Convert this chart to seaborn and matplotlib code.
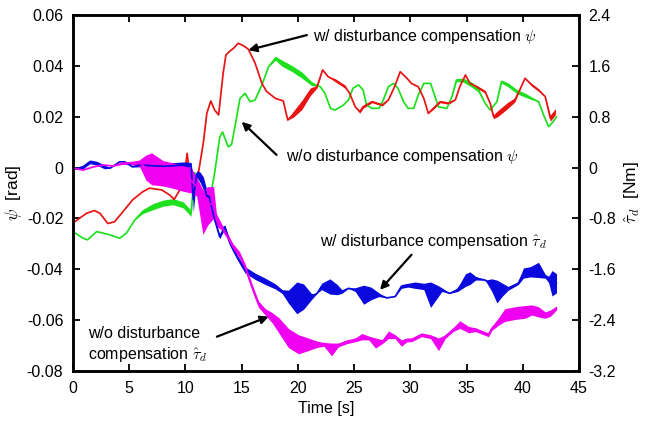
import numpy as np
import pandas as pd
import matplotlib
matplotlib.use("Agg")
import matplotlib.pyplot as plt
import seaborn as sns

# ---------------- data ----------------
# w/ disturbance compensation psi [rad]
t_red = [0.0, 0.15, 1.2, 1.9, 2.4, 3.1, 3.7, 4.45, 5.3, 6.2, 6.8, 7.9, 8.6, 9.0, 9.6, 10.0,
         10.15, 10.4, 10.8, 11.1, 11.6, 11.9, 12.25, 12.6, 12.95, 13.35, 13.6, 13.9, 14.3,
         14.7, 15.2, 15.6, 16.2, 16.8, 17.2, 18.0, 18.7, 19.1, 19.6, 20.35, 21.1, 21.7, 22.2,
         22.7, 23.3, 24.2, 24.6, 25.1, 25.5, 25.8, 26.6, 27.5, 28.05, 28.6, 29.1, 29.7, 30.1,
         30.7, 31.2, 31.6, 32.05, 32.65, 33.4, 34.0, 34.4, 34.9, 35.3, 35.9, 36.65, 37.1, 37.4,
         37.8, 38.7, 39.3, 39.8, 40.2, 40.8, 41.4, 42.0, 42.45, 42.9]
psi_red = [-0.0213, -0.0213, -0.0180, -0.0169, -0.0180, -0.0220, -0.0213, -0.0173, -0.0127,
           -0.0095, -0.0081, -0.0088, -0.0108, -0.0125, -0.0080, 0.0000, 0.0056, -0.0040,
           -0.0070, -0.0036, 0.0100, 0.0213, 0.0262, 0.0226, 0.0207, 0.0370, 0.0443, 0.0456,
           0.0470, 0.0489, 0.0478, 0.0465, 0.0410, 0.0331, 0.0300, 0.0272, 0.0262, 0.0187,
           0.0210, 0.0246, 0.0298, 0.0318, 0.0384, 0.0357, 0.0344, 0.0318, 0.0292, 0.0239,
           0.0220, 0.0239, 0.0259, 0.0246, 0.0266, 0.0318, 0.0377, 0.0351, 0.0331, 0.0318,
           0.0272, 0.0213, 0.0233, 0.0259, 0.0253, 0.0266, 0.0318, 0.0364, 0.0331, 0.0318,
           0.0298, 0.0253, 0.0200, 0.0213, 0.0246, 0.0266, 0.0312, 0.0351, 0.0325, 0.0305,
           0.0279, 0.0194, 0.0220]
amp_red = [0, 0, 0, 0, 0, 0, 0, 0, 0, 0, 0, 0, 0, 0, 0, 0,
           0, 0, 0, 0, 0, 0, 0, 0, 0, 0, 0, 0, 0,
           0, 0, 0, 0, 0, 0, 0, 0, 0, 0.0012, 0.0018, 0.0015, 0.0005, 0,
           0, 0.0006, 0.0006, 0, 0, 0.0006, 0.0006, 0.0004, 0.0004, 0, 0, 0, 0, 0,
           0, 0, 0, 0.0004, 0.0004, 0.0004, 0, 0, 0, 0, 0.0005, 0.0005, 0, 0.0008,
           0.0012, 0.0012, 0.0008, 0, 0, 0.0005, 0.0005, 0, 0.0012, 0.0012]

# w/o disturbance compensation psi [rad]
t_green = [0.0, 0.9, 1.3, 2.1, 2.7, 3.3, 4.15, 4.75, 5.5, 6.2, 7.1, 8.0, 8.9, 9.8, 10.5, 10.8,
           11.2, 11.8, 12.2, 12.6, 13.05, 13.3, 13.8, 14.1, 14.4, 14.85, 15.3, 15.75, 16.2,
           16.8, 17.4, 18.0, 18.6, 19.45, 20.35, 21.2, 22.0, 22.4, 22.9, 23.3, 24.05, 24.5,
           24.9, 25.4, 25.8, 26.1, 26.6, 27.2, 27.6, 28.05, 28.5, 28.9, 29.4, 29.8, 30.3, 30.7,
           31.2, 31.8, 32.2, 32.5, 33.25, 33.7, 34.1, 34.7, 35.5, 36.05, 36.65, 37.1, 37.7,
           38.1, 38.7, 39.5, 40.2, 40.8, 41.4, 41.85, 42.3, 42.7, 43.0]
psi_green = [-0.0252, -0.0278, -0.0284, -0.0252, -0.0258, -0.0265, -0.0278, -0.0258, -0.0206,
             -0.0173, -0.0154, -0.0140, -0.0134, -0.0147, -0.0180, -0.0020, -0.0040, -0.0090,
             -0.0120, -0.0020, 0.0120, 0.0140, 0.0082, 0.0090, 0.0160, 0.0272, 0.0292, 0.0259,
             0.0266, 0.0325, 0.0397, 0.0430, 0.0410, 0.0390, 0.0364, 0.0331, 0.0318, 0.0292,
             0.0233, 0.0226, 0.0246, 0.0266, 0.0312, 0.0325, 0.0305, 0.0246, 0.0233, 0.0233,
             0.0266, 0.0318, 0.0331, 0.0312, 0.0259, 0.0233, 0.0233, 0.0285, 0.0331, 0.0331,
             0.0279, 0.0239, 0.0233, 0.0279, 0.0344, 0.0344, 0.0325, 0.0305, 0.0253, 0.0226,
             0.0259, 0.0338, 0.0325, 0.0298, 0.0285, 0.0272, 0.0259, 0.0207, 0.0161, 0.0180,
             0.0200]
amp_green = [0, 0, 0, 0, 0, 0, 0, 0, 0, 0.0008, 0.0012, 0.0012, 0.0012, 0.0012, 0.0012, 0,
             0, 0, 0, 0, 0, 0, 0, 0, 0, 0, 0, 0, 0,
             0, 0, 0.0008, 0.0012, 0.0012, 0.0012, 0.0008, 0, 0, 0, 0, 0, 0,
             0, 0, 0, 0, 0, 0, 0, 0, 0, 0, 0, 0, 0, 0,
             0, 0, 0, 0, 0, 0, 0.0006, 0.0008, 0.001, 0.0008, 0, 0, 0,
             0.0006, 0.0008, 0.0008, 0.0008, 0.0005, 0, 0, 0, 0, 0]

# w/ disturbance compensation tau_d [Nm]
t_blue = [0.0, 0.9, 1.5, 2.1, 2.8, 3.3, 4.15, 4.6, 5.3, 5.9, 7.0, 8.0, 9.0, 10.0, 10.5, 10.7,
          11.0, 11.3, 11.6, 11.9, 12.1, 12.6, 13.05, 13.5, 13.95, 14.5, 14.9, 15.3, 16.2, 17.1,
          18.0, 18.6, 19.15, 19.9, 20.5, 21.2, 21.7, 22.1, 22.85, 23.5, 23.9, 24.5, 25.1, 25.85,
          26.5, 27.2, 27.9, 28.65, 29.2, 29.8, 30.4, 31.2, 31.8, 32.4, 32.8, 33.5, 34.2, 34.9,
          35.3, 35.8, 36.65, 37.25, 37.7, 38.2, 38.7, 39.6, 40.05, 40.65, 41.4, 42.0, 42.3,
          42.6, 43.0]
tau_blue = [-0.03, 0.01, 0.09, 0.07, 0.01, -0.01, 0.09, 0.09, 0.01, 0.04, 0.03, 0.02, 0.03,
            0.04, 0.05, -0.50, -0.10, -0.15, -0.25, -0.45, -0.45, -0.82, -1.09, -0.93, -1.19,
            -1.38, -1.50, -1.61, -1.71, -1.79, -1.87, -1.95, -2.03, -2.05, -2.03, -2.03, -1.98,
            -1.87, -1.87, -1.92, -1.95, -1.90, -1.92, -2.00, -1.98, -2.00, -2.05, -2.03, -1.87,
            -1.85, -1.85, -1.87, -2.00, -1.95, -1.92, -1.98, -1.92, -1.77, -1.74, -1.74, -1.77,
            -1.85, -1.95, -1.92, -1.90, -1.82, -1.66, -1.64, -1.61, -1.71, -1.76, -1.82, -1.82]
amp_blue = [0, 0.03, 0.03, 0.03, 0.03, 0, 0, 0, 0, 0.03, 0.05, 0.05, 0.05, 0.05, 0.03, 0.2,
            0.05, 0.08, 0.1, 0.1, 0.05, 0.03, 0.03, 0.03, 0.03,
            0.03, 0.04, 0.05, 0.05, 0.05, 0.04, 0.03, 0.1, 0.25, 0.2, 0.05, 0,
            0.05, 0.12, 0.08, 0.03, 0, 0.03, 0.15, 0.1, 0.03, 0, 0, 0.03,
            0.03, 0.05, 0.05, 0.2, 0.1, 0.03, 0, 0.03, 0.1, 0.1, 0.03, 0,
            0.1, 0.18, 0.1, 0.03, 0.02, 0.08, 0.08, 0.12, 0.03, 0.05, 0.2, 0.15]

# w/o disturbance compensation tau_d [Nm]
t_mag = [0.0, 0.9, 1.8, 2.7, 3.6, 4.45, 5.3, 5.9, 6.5, 7.0, 8.0, 9.0, 9.5, 10.5, 11.0, 11.55,
         12.0, 12.5, 12.75, 13.2, 13.65, 14.2, 14.8, 15.3, 15.9, 16.5, 17.1, 17.7, 18.3, 19.15,
         20.05, 20.9, 21.7, 22.3, 23.0, 23.6, 24.35, 25.1, 25.7, 26.3, 26.9, 27.5, 28.05, 28.65,
         29.2, 29.7, 30.1, 31.0, 31.8, 32.5, 33.1, 33.8, 34.4, 35.2, 35.8, 36.5, 36.95, 37.25,
         37.85, 38.4, 39.3, 40.2, 40.8, 41.4, 42.0, 42.45, 43.0]
tau_mag = [-0.01, -0.04, 0.01, 0.04, 0.025, 0.07, 0.07, 0.07, 0.00, -0.02, -0.09, -0.13,
           -0.16, -0.20, -0.30, -0.70, -0.60, -0.55, -0.82, -0.93, -1.05, -1.24, -1.37, -1.56,
           -1.87, -2.15, -2.27, -2.36, -2.48, -2.68, -2.78, -2.78, -2.78, -2.78, -2.86, -2.79,
           -2.74, -2.71, -2.66, -2.68, -2.76, -2.74, -2.63, -2.66, -2.76, -2.71, -2.71, -2.63,
           -2.66, -2.78, -2.66, -2.55, -2.47, -2.55, -2.55, -2.60, -2.63, -2.53, -2.42, -2.32,
           -2.29, -2.27, -2.24, -2.27, -2.32, -2.29, -2.21]
amp_mag = [0, 0, 0, 0, 0, 0.02, 0.03, 0.05, 0.2, 0.25, 0.2, 0.2, 0.2, 0.2, 0.15, 0.35,
           0.3, 0.25, 0.1, 0.05, 0.05, 0.05, 0.05, 0.05, 0.05, 0.05, 0.05, 0.08, 0.12, 0.15,
           0.15, 0.1, 0.05, 0.03, 0.1, 0.03, 0.03, 0.03, 0.05, 0.03, 0.08, 0.03, 0.06, 0.03,
           0.05, 0.03, 0.03, 0.03, 0.03, 0.1, 0.03, 0.03, 0.06, 0.05, 0.03, 0.03, 0.03, 0.03,
           0.06, 0.1, 0.1, 0.1, 0.08, 0.08, 0.05, 0.05, 0.03]

x_ticks = [0, 5, 10, 15, 20, 25, 30, 35, 40, 45]
psi_ticks = [-0.08, -0.06, -0.04, -0.02, 0.0, 0.02, 0.04, 0.06]
psi_labels = ["-0.08", "-0.06", "-0.04", "-0.02", "0", "0.02", "0.04", "0.06"]
tau_ticks = [-3.2, -2.4, -1.6, -0.8, 0.0, 0.8, 1.6, 2.4]
tau_labels = ["-3.2", "-2.4", "-1.6", "-0.8", "0", "0.8", "1.6", "2.4"]

# ---------------- style ----------------
sns.set_theme(style="ticks")
plt.rcParams["font.family"] = ["Liberation Sans", "DejaVu Sans"]
plt.rcParams["mathtext.fontset"] = "cm"
plt.rcParams["text.color"] = "black"
plt.rcParams["axes.labelcolor"] = "black"
plt.rcParams["xtick.color"] = "black"
plt.rcParams["ytick.color"] = "black"
FS = 11.5

C_RED = "#e81414"
C_GREEN = "#1ee01e"
C_BLUE = "#0a0ade"
C_MAG = "#f000f0"

fig = plt.figure(figsize=(6.49, 4.25), dpi=100)
ax = fig.add_axes([73 / 649, 1 - 371 / 425, (579 - 73) / 649, (371 - 15) / 425])
ax2 = ax.twinx()


def draw(axis, t, v, amp, color):
    t = np.asarray(t)
    v = np.asarray(v)
    a = np.asarray(amp)
    axis.fill_between(t, v - a, v + a, color=color, linewidth=0)
    df = pd.DataFrame({"t": t, "v": v})
    sns.lineplot(data=df, x="t", y="v", ax=axis, color=color, linewidth=1.25,
                 estimator=None, sort=False)


draw(ax, t_green, psi_green, amp_green, C_GREEN)
draw(ax, t_red, psi_red, amp_red, C_RED)
draw(ax2, t_blue, tau_blue, amp_blue, C_BLUE)
draw(ax2, t_mag, tau_mag, amp_mag, C_MAG)

ax.set_xlim(0, 45)
ax.set_ylim(-0.08, 0.06)
ax2.set_ylim(-3.2, 2.4)
ax.set_xticks(x_ticks)
ax.set_xticklabels([str(v) for v in x_ticks], fontsize=FS)
ax.set_yticks(psi_ticks)
ax.set_yticklabels(psi_labels, fontsize=FS)
ax2.set_yticks(tau_ticks)
ax2.set_yticklabels(tau_labels, fontsize=FS)

ax.tick_params(axis="x", direction="in", top=True, length=5, width=1.3, pad=7, colors="black")
ax.tick_params(axis="y", direction="in", length=5, width=1.3, pad=7, colors="black")
ax2.tick_params(axis="y", direction="in", length=5, width=1.3, pad=7, colors="black")
for a in (ax, ax2):
    for s in a.spines.values():
        s.set_visible(True)
        s.set_linewidth(1.8)
        s.set_color("black")

ax.set_xlabel("Time [s]", fontsize=FS, labelpad=4, color="black")
ax.set_ylabel(r"$\psi$  [rad]", fontsize=FS + 1, labelpad=2, color="black")
ax2.set_ylabel(r"$\hat{\tau}_d$  [Nm]", fontsize=FS + 1, labelpad=4, color="black")

arrow = dict(arrowstyle="-|>", color="black", lw=1.6, mutation_scale=12, shrinkA=0, shrinkB=0)
ax.annotate("", xy=(15.6, 0.0462), xytext=(20.8, 0.0521), arrowprops=arrow)
ax.text(21.3, 0.0517, r"w/ disturbance compensation $\psi$", fontsize=FS, va="center",
        ha="left", color="black")

ax.annotate("", xy=(15.0, 0.018), xytext=(18.1, 0.005), arrowprops=arrow)
ax.text(18.9, 0.0042, r"w/o disturbance compensation $\psi$", fontsize=FS, va="center",
        ha="left", color="black")

ax.annotate("", xy=(27.3, -0.0481), xytext=(30.1, -0.0343), arrowprops=arrow)
ax.text(22.0, -0.0291, r"w/ disturbance compensation $\hat{\tau}_d$", fontsize=FS,
        va="center", ha="left", color="black")

ax.annotate("", xy=(17.4, -0.0586), xytext=(12.8, -0.0665), arrowprops=arrow)
ax.text(1.35, -0.0697, "w/o disturbance\n" + r"compensation $\hat{\tau}_d$", fontsize=FS,
        va="center", ha="left", linespacing=1.3, color="black")

fig.savefig("out.png", dpi=100)
